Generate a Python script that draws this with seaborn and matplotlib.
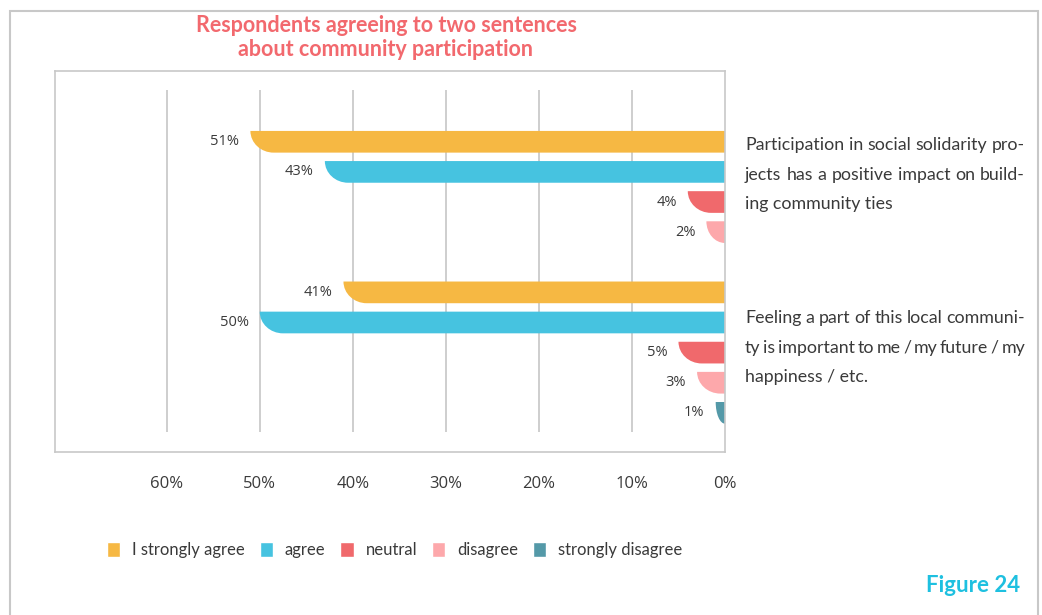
import numpy as np
import pandas as pd
import matplotlib
matplotlib.use("Agg")
import matplotlib.pyplot as plt
from matplotlib.path import Path
from matplotlib.patches import PathPatch, Rectangle
import seaborn as sns

# --- data -------------------------------------------------------------
statements = ["Q1", "Q2"]
statement_lines = [
    ["Participation in social solidarity pro-",
     "jects has a positive impact on build-",
     "ing community ties"],
    ["Feeling a part of this local communi-",
     "ty is important to me / my future / my",
     "happiness / etc."],
]
responses = ["I strongly agree", "agree", "neutral", "disagree", "strongly disagree"]
strongly_agree = [51, 41]
agree = [43, 50]
neutral = [4, 5]
disagree = [2, 3]
strongly_disagree = [0, 1]
palette = ["#F6B843", "#46C3E0", "#F0696C", "#FDA8AB", "#5499A8"]
x_ticks = [60, 50, 40, 30, 20, 10, 0]
x_tick_labels = ["60%", "50%", "40%", "30%", "20%", "10%", "0%"]

series = [strongly_agree, agree, neutral, disagree, strongly_disagree]
rows = []
for qi, q in enumerate(statements):
    for r, vals in zip(responses, series):
        rows.append({"statement": q, "response": r, "share": vals[qi]})
df = pd.DataFrame(rows)

# --- styling ----------------------------------------------------------
sns.set_style("white")
plt.rcParams["font.family"] = ["Lato", "DejaVu Sans"]
TEXT = "#3a3a3a"
GRID = "#c6c6c6"

W, H = 1042, 615
fig = plt.figure(figsize=(W / 100, H / 100), dpi=100)
ax = fig.add_axes([55 / W, 1 - 452 / H, 670 / W, 381 / H])

sns.barplot(data=df, y="statement", x="share", hue="response",
            order=statements, hue_order=responses, palette=palette,
            orient="h", width=1.0, gap=0.28, saturation=1,
            ax=ax, zorder=2)

ax.set_xlim(72, 0)
ax.set_ylim(1.66, -0.87)

# replace the rectangles with bars whose outer end is a rounded sweep
k = 0.5523
for p in list(ax.patches):
    v = p.get_width()
    y0, h = p.get_y(), p.get_height()
    fc = p.get_facecolor()
    p.remove()
    if v <= 0:
        continue
    rx = min(2.5, v)
    verts = [(0, y0), (v, y0),
             (v, y0 + k * h), (v - rx + k * rx, y0 + h), (v - rx, y0 + h),
             (0, y0 + h), (0, y0)]
    codes = [Path.MOVETO, Path.LINETO,
             Path.CURVE4, Path.CURVE4, Path.CURVE4,
             Path.LINETO, Path.CLOSEPOLY]
    ax.add_patch(PathPatch(Path(verts, codes), facecolor=fc,
                           edgecolor="none", zorder=2))
    ax.annotate(f"{v:g}%", xy=(v, y0 + h / 2), xytext=(-8, 0),
                textcoords="offset points", ha="right", va="center",
                fontsize=10.5, color=TEXT, family=["Open Sans", "DejaVu Sans"])

# vertical guide lines
ax.vlines([t for t in x_ticks if t > 0], -0.745, 1.53, color=GRID,
          lw=1.2, zorder=0)

ax.set_xticks(x_ticks, x_tick_labels)
ax.set_yticks([])
ax.set_xlabel("")
ax.set_ylabel("")
ax.tick_params(axis="x", length=0, pad=17, labelsize=12, colors=TEXT)
for lab in ax.get_xticklabels():
    lab.set_family(["Open Sans", "DejaVu Sans"])
for s in ax.spines.values():
    s.set_visible(True)
    s.set_color("#c8c8c8")
    s.set_linewidth(1.2)

sns.move_legend(ax, "center", bbox_to_anchor=(0.507, -0.257), ncol=5,
                frameon=False, title=None, fontsize=12,
                handlelength=0.8, handleheight=1.0, handletextpad=0.7,
                columnspacing=0.9)
for t in ax.get_legend().get_texts():
    t.set_color(TEXT)

# statement texts beside the groups, justified to a fixed width
fig.canvas.draw()
renderer = fig.canvas.get_renderer()
x_left, x_right = 745, 1025
line_y = [[145, 175, 204], [318, 348, 377]]
FS = 12.8
for lines, ys in zip(statement_lines, line_y):
    for li, (line, yp) in enumerate(zip(lines, ys)):
        words = line.split(" ")
        last = li == len(lines) - 1
        if last or len(words) == 1:
            fig.text(x_left / W, 1 - yp / H, line, fontsize=FS,
                     color=TEXT, ha="left", va="center")
            continue
        widths = []
        objs = []
        for w_ in words:
            t = fig.text(0, 0, w_, fontsize=FS, color=TEXT,
                         ha="left", va="center")
            widths.append(t.get_window_extent(renderer).width)
            objs.append(t)
        gap = (x_right - x_left - sum(widths)) / (len(words) - 1)
        xp = x_left
        for t, wd in zip(objs, widths):
            t.set_position((xp / W, 1 - yp / H))
            xp += wd + gap

# title and figure caption
fig.text(386 / W, 1 - 26 / H, "Respondents agreeing to two sentences",
         ha="center", va="center", fontsize=15.5, fontweight="bold",
         color="#F2696E")
fig.text(386 / W, 1 - 50 / H, "about community participation",
         ha="center", va="center", fontsize=15.5, fontweight="bold",
         color="#F2696E")
fig.text(1020 / W, 1 - 585 / H, "Figure 24", ha="right", va="center",
         fontsize=16, fontweight="bold", color="#1EC0E0")

# outer frame of the figure
fig.patches.append(Rectangle((10 / W, -0.1), 1028 / W, 1.1 - 11 / H,
                             transform=fig.transFigure, fill=False,
                             edgecolor="#c8c8c8", lw=1.5))

fig.savefig("out.png", dpi=100)
